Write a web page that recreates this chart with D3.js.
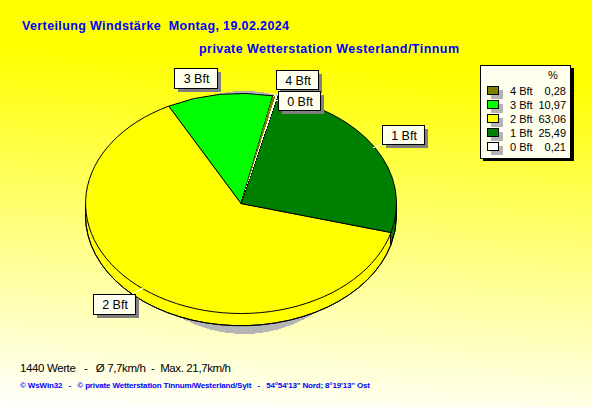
<!DOCTYPE html>
<html><head><meta charset="utf-8">
<script src="https://cdnjs.cloudflare.com/ajax/libs/d3/7.8.5/d3.min.js"></script>
<style>html,body{margin:0;padding:0;background:#fff}svg{display:block}text{font-family:"Liberation Sans",Arial,sans-serif;white-space:pre}</style>
</head><body><svg id="c" width="592" height="407"></svg>
<script>
const categories = ["4 Bft","3 Bft","2 Bft","1 Bft","0 Bft"];
const values = [0.28,10.97,63.06,25.49,0.21];
const valueLabels = ["0,28","10,97","63,06","25,49","0,21"];
const colors = ["#808000","#00ff00","#ffff00","#008000","#ffffff"];
const drawOrder = ["3 Bft","4 Bft","0 Bft","1 Bft","2 Bft"];
const labelBoxes = [["3 Bft",174,68,217,88,220,93],["4 Bft",276,70,318,89,273,97],["0 Bft",278,91,320,110,274,100],["1 Bft",382,125,424,144,373,148],["2 Bft",93,294,135,314,143,288]];

const W=592,H=407,cx=241,cy=203.5,rx=155.5,ry=110,depth=12;
const svg=d3.select("#c");
const defs=svg.append("defs");
const g=defs.append("linearGradient").attr("id","bg").attr("x1","0.08").attr("y1","0").attr("x2","0").attr("y2","1");
g.append("stop").attr("offset","0").attr("stop-color","#ffff00");
g.append("stop").attr("offset","0.12").attr("stop-color","#ffff00");
g.append("stop").attr("offset","1").attr("stop-color","#ffffff");
svg.append("rect").attr("width",W).attr("height",H).attr("fill","url(#bg)");

const color=d3.scaleOrdinal(categories,colors);
const rows=categories.map((c,i)=>({c,v:values[i],l:valueLabels[i]}));
const start=-27.7*Math.PI/180;
const pie=d3.pie().value(d=>d.v).sort((a,b)=>drawOrder.indexOf(a.c)-drawOrder.indexOf(b.c)).startAngle(start).endAngle(start+2*Math.PI);
const arcs=pie(rows);
const arc=d3.arc().innerRadius(0).outerRadius(1);
const rim=d3.arc().innerRadius(1).outerRadius(1);
const layer=(dy)=>svg.append("g").attr("transform",`translate(${cx},${cy+dy}) scale(${rx},${ry})`).attr("shape-rendering","crispEdges");

// grey shadow
svg.append("ellipse").attr("cx",cx+3).attr("cy",212.5).attr("rx",126).attr("ry",121.5).attr("fill","#b4b4b4").attr("shape-rendering","crispEdges");

// extruded side
d3.range(depth,0,-1).forEach(dy=>{
  layer(dy).selectAll("path").data(arcs).join("path").attr("d",arc).attr("fill",d=>color(d.data.c));
});
// lower rim outline
const lo=Math.PI/2, hi=3*Math.PI/2;
layer(depth).selectAll("path").data(arcs.filter(d=>d.endAngle>lo&&d.startAngle<hi)).join("path")
  .attr("d",d=>rim({startAngle:Math.max(d.startAngle,lo),endAngle:Math.min(d.endAngle,hi)}))
  .attr("fill","none").attr("stroke","#000").attr("vector-effect","non-scaling-stroke");
// side edges
const edgeAngles=[lo,arcs.find(d=>d.data.c==="1 Bft").endAngle,hi];
svg.selectAll("line.edge").data(edgeAngles).join("line").attr("class","edge").attr("shape-rendering","crispEdges")
  .attr("x1",a=>cx+rx*Math.sin(a)).attr("x2",a=>cx+rx*Math.sin(a))
  .attr("y1",a=>cy-ry*Math.cos(a)).attr("y2",a=>cy-ry*Math.cos(a)+depth).attr("stroke","#000");
// top face
layer(0).selectAll("path").data(arcs).join("path").attr("d",arc)
  .attr("fill",d=>color(d.data.c)).attr("stroke","#000").attr("vector-effect","non-scaling-stroke");
// the two thin slices stay visible over the outlines
layer(0).selectAll("path").data(arcs.filter(d=>d.data.v<1)).join("path").attr("d",arc).attr("fill",d=>color(d.data.c));

// labels
const lb=svg.append("g").attr("shape-rendering","crispEdges");
lb.selectAll("line").data(labelBoxes).join("line")
  .attr("x1",d=>(d[1]+d[3])/2).attr("y1",d=>(d[2]+d[4])/2).attr("x2",d=>d[5]).attr("y2",d=>d[6]).attr("stroke","#fff");
lb.selectAll("rect.s").data(labelBoxes).join("rect").attr("class","s")
  .attr("x",d=>d[1]+4).attr("y",d=>d[2]+4).attr("width",d=>d[3]-d[1]).attr("height",d=>d[4]-d[2]).attr("fill","#808080");
lb.selectAll("rect.b").data(labelBoxes).join("rect").attr("class","b")
  .attr("x",d=>d[1]+.5).attr("y",d=>d[2]+.5).attr("width",d=>d[3]-d[1]).attr("height",d=>d[4]-d[2])
  .attr("fill","#ffffee").attr("stroke","#000");
lb.selectAll("text").data(labelBoxes).join("text")
  .attr("x",d=>(d[1]+d[3])/2+1).attr("y",d=>d[2]+14.5).attr("text-anchor","middle").attr("font-size",12.5).attr("fill","#000").text(d=>d[0]);

// legend
const L=svg.append("g").attr("shape-rendering","crispEdges");
L.append("rect").attr("x",483).attr("y",68).attr("width",91).attr("height",93).attr("fill","#000");
L.append("rect").attr("x",480.5).attr("y",65.5).attr("width",90).attr("height",93).attr("fill","#ffffee").attr("stroke","#000");
L.append("text").attr("x",553).attr("y",79).attr("text-anchor","middle").attr("font-size",11).text("%");
const rowY=d3.scalePoint().domain(categories).range([91,147]);
const R=L.selectAll("g.r").data(rows).join("g").attr("class","r").attr("transform",d=>`translate(0,${rowY(d.c)})`);
R.append("rect").attr("x",491).attr("y",-1).attr("width",12).attr("height",9).attr("fill","#b4b4b4");
R.append("rect").attr("x",487.5).attr("y",-4.5).attr("width",11).attr("height",8).attr("fill",d=>color(d.c)).attr("stroke","#000");
R.append("text").attr("x",510).attr("y",4).attr("font-size",11).text(d=>d.c);
R.append("text").attr("x",566).attr("y",4).attr("text-anchor","end").attr("font-size",11).text(d=>d.l);

// titles
const t=(x,y,s,size,weight,fill,len)=>svg.append("text").attr("x",x).attr("y",y).attr("font-size",size).attr("font-weight",weight).attr("fill",fill).attr("textLength",len).attr("lengthAdjust","spacing").text(s);
t(22,30,"Verteilung Windstärke  Montag, 19.02.2024",12.5,"bold","#0000ff",267);
t(199,53,"private Wetterstation Westerland/Tinnum",12.5,"bold","#0000ff",260);
t(20,372,"1440 Werte   -   Ø 7,7km/h  -  Max. 21,7km/h",11.5,"normal","#000",211);
t(20,388,"© WsWin32   -   © private Wetterstation Tinnum/Westerland/Sylt   -   54°54'13'' Nord; 8°19'13'' Ost",8,"bold","#0000ff",350);
</script></body></html>
